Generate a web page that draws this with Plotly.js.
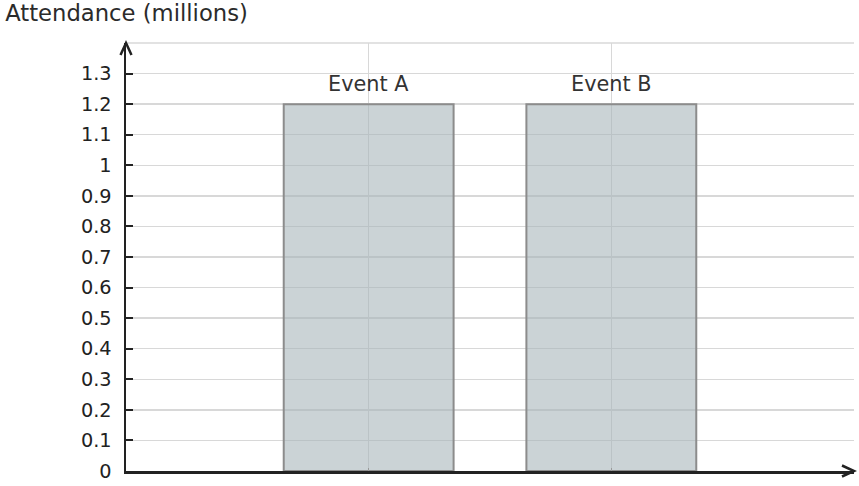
<!DOCTYPE html>
<html>
<head>
<meta charset="utf-8">
<script src="https://cdn.plot.ly/plotly-3.0.1.min.js"></script>
<style>html,body{margin:0;padding:0;background:#fff;}#chart{width:859px;height:486px;}</style>
</head>
<body>
<div id="chart"></div>
<script>
const categories = ['Event A', 'Event B'];
const attendance = [1.2, 1.2];
const yTickValues = [0, 0.1, 0.2, 0.3, 0.4, 0.5, 0.6, 0.7, 0.8, 0.9, 1, 1.1, 1.2, 1.3];
const yTickLabels = ['0', '0.1', '0.2', '0.3', '0.4', '0.5', '0.6', '0.7', '0.8', '0.9', '1', '1.1', '1.2', '1.3'];
const chartTitle = 'Attendance (millions)';

const xPos = categories.map((c, i) => i);
const FONT = '"DejaVu Sans", Verdana, sans-serif';
const GRID = '#d8d8d8';
const AXIS = '#222222';

const trace = {
  type: 'bar',
  x: xPos,
  y: attendance,
  width: 0.7,
  marker: {
    color: 'rgba(168,182,187,0.6)',
    line: {color: '#8c8c8c', width: 2}
  },
  hoverinfo: 'skip'
};

const annotations = categories.map((c, i) => ({
  x: xPos[i], y: attendance[i], xref: 'x', yref: 'y',
  text: c, showarrow: false, yanchor: 'middle', yshift: 20,
  font: {family: FONT, size: 20.8, color: '#333333'}
}));

const shapes = [
  {type: 'line', xref: 'paper', yref: 'paper', x0: 0, x1: 1, y0: 1, y1: 1,
   line: {color: GRID, width: 1.5}, layer: 'below'},
  {type: 'path', xref: 'paper', yref: 'paper', xsizemode: 'pixel', ysizemode: 'pixel',
   xanchor: 0, yanchor: 1, path: 'M-5.5,-12 L0,0 L5.5,-12',
   line: {color: AXIS, width: 2.5}},
  {type: 'path', xref: 'paper', yref: 'paper', xsizemode: 'pixel', ysizemode: 'pixel',
   xanchor: 1, yanchor: 0, path: 'M-12,-5.5 L0,0 L-12,5.5',
   line: {color: AXIS, width: 2.5}}
];

const layout = {
  width: 859, height: 486,
  margin: {l: 126, r: 5, t: 43, b: 15, pad: 0},
  paper_bgcolor: '#ffffff', plot_bgcolor: '#ffffff',
  showlegend: false,
  title: {
    text: chartTitle, xref: 'container', yref: 'container',
    x: 0.006, xanchor: 'left', y: 0.9733, yanchor: 'middle',
    font: {family: FONT, size: 22.7, color: '#2b2b2b'}
  },
  xaxis: {
    range: [-1, 2], tickvals: [0, 1, 2], showticklabels: false,
    showgrid: true, gridcolor: GRID, gridwidth: 1.5,
    ticks: 'inside', ticklen: 3, tickcolor: '#999999', tickwidth: 1.5,
    showline: true, linecolor: AXIS, linewidth: 2.5,
    zeroline: false, fixedrange: true
  },
  yaxis: {
    range: [0, 1.4], tickvals: yTickValues, ticktext: yTickLabels,
    showgrid: true, gridcolor: GRID, gridwidth: 1.5,
    ticks: 'inside', ticklen: 7, tickcolor: AXIS, tickwidth: 2,
    ticklabelstandoff: 8,
    showline: true, linecolor: AXIS, linewidth: 2.5,
    zeroline: false, fixedrange: true,
    tickfont: {family: FONT, size: 19.3, color: '#222222'}
  },
  annotations: annotations,
  shapes: shapes
};

Plotly.newPlot('chart', [trace], layout, {displayModeBar: false, staticPlot: true});
</script>
</body>
</html>
